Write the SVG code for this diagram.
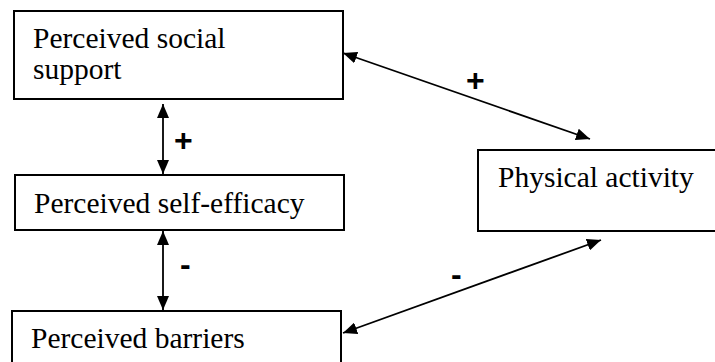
<svg xmlns="http://www.w3.org/2000/svg" width="715" height="362" viewBox="0 0 715 362">
<style>
.box{fill:#fff;stroke:#000;stroke-width:2}
.lbl{font-family:"Liberation Serif","Times New Roman",serif;font-size:29.5px;fill:#000}
.sign{font-family:"Liberation Sans",Arial,sans-serif;font-weight:bold;font-size:32px;fill:#000}
.conn{stroke:#000;stroke-width:1.8;fill:none;marker-start:url(#ah);marker-end:url(#ah)}
</style>
<defs>
<marker id="ah" viewBox="0 0 14 12" refX="14" refY="6" markerWidth="14" markerHeight="12" markerUnits="userSpaceOnUse" orient="auto-start-reverse">
<path d="M0,0 L14,6 L0,12 Z" fill="#000"/>
</marker>
</defs>
<rect width="715" height="362" fill="#fff"/>
<g id="connectors">
<line class="conn" x1="163" y1="104" x2="163" y2="174"/>
<line class="conn" x1="163" y1="231" x2="163" y2="310"/>
<line class="conn" x1="343" y1="53" x2="590" y2="139"/>
<line class="conn" x1="343" y1="333" x2="601" y2="240"/>
<text class="sign" x="174" y="151">+</text>
<text class="sign" x="180" y="275">-</text>
<text class="sign" x="466" y="91">+</text>
<text class="sign" x="451" y="285">-</text>
</g>
<g id="social-support">
<rect class="box" x="14" y="11" width="329" height="88"/>
<text class="lbl" x="33" y="48">Perceived social</text>
<text class="lbl" x="33" y="79">support</text>
</g>
<g id="self-efficacy">
<rect class="box" x="15" y="175" width="329" height="55"/>
<text class="lbl" x="34" y="213">Perceived self-efficacy</text>
</g>
<g id="barriers">
<rect class="box" x="12" y="311" width="329" height="60"/>
<text class="lbl" x="31" y="348">Perceived barriers</text>
</g>
<g id="physical-activity">
<rect class="box" x="478" y="150" width="250" height="81"/>
<text class="lbl" x="498" y="187">Physical activity</text>
</g>
</svg>
